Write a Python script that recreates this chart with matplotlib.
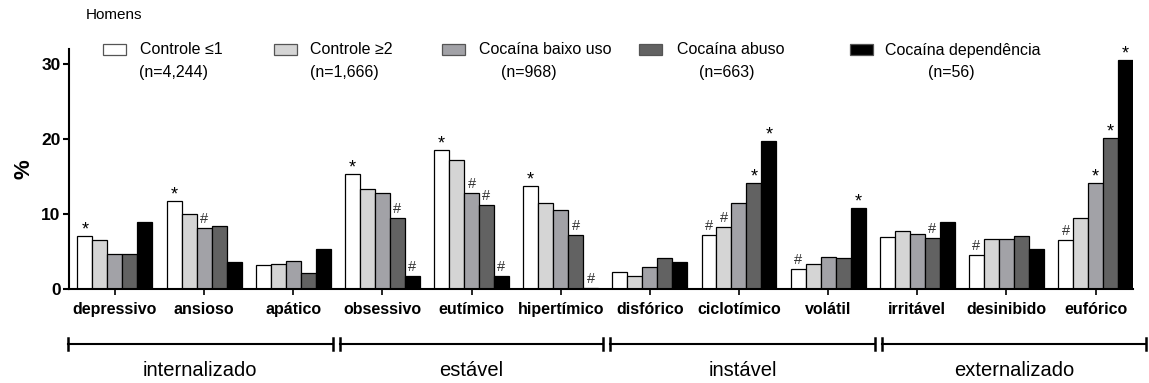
import numpy as np
import matplotlib
matplotlib.use('Agg')
import matplotlib.pyplot as plt
import matplotlib.transforms as mtransforms
from matplotlib.patches import Rectangle

plt.rcParams['font.family'] = ['Liberation Sans', 'DejaVu Sans']

categories = ['depressivo', 'ansioso', 'apático', 'obsessivo', 'eutímico', 'hipertímico',
              'disfórico', 'ciclotímico', 'volátil', 'irritável', 'desinibido', 'eufórico']

groups = ['Controle \u22641', 'Controle \u22652', 'Cocaína baixo uso', 'Cocaína abuso', 'Cocaína dependência']
group_n = ['(n=4,244)', '(n=1,666)', '(n=968)', '(n=663)', '(n=56)']

ctrl_le1 = [7.1, 11.8, 3.2, 15.4, 18.5, 13.8, 2.3, 7.2, 2.7, 6.9, 4.6, 6.6]
ctrl_ge2 = [6.6, 10.0, 3.4, 13.4, 17.2, 11.5, 1.7, 8.3, 3.4, 7.8, 6.7, 9.5]
coc_low = [4.7, 8.2, 3.7, 12.8, 12.8, 10.5, 3.0, 11.5, 4.3, 7.4, 6.7, 14.2]
coc_abuse = [4.7, 8.4, 2.1, 9.5, 11.2, 7.2, 4.2, 14.2, 4.1, 6.8, 7.1, 20.2]
coc_dep = [8.9, 3.6, 5.4, 1.8, 1.8, 0.2, 3.6, 19.7, 10.8, 8.9, 5.4, 30.5]

# significance marks per category, one char per group ('.' = none)
sig = ['*....', '*.#..', '.....', '*..##', '*.###', '*..##',
       '.....', '##.**', '#...*', '...#.', '#....', '#.***']

domains = ['internalizado', 'estável', 'instável', 'externalizado']
domain_span = [(-0.527, 2.443), (2.521, 5.479), (5.557, 8.527), (8.605, 11.563)]

colors = ['#ffffff', '#d5d5d5', '#a2a2a7', '#626262', '#000000']

series = [ctrl_le1, ctrl_ge2, coc_low, coc_abuse, coc_dep]

fig = plt.figure(figsize=(11.49, 3.83), dpi=100)
ax = fig.add_axes([0.06005, 0.24543, 0.92602, 0.62663])

x = np.arange(len(categories))
w = 0.168
for j, vals in enumerate(series):
    pos = x + (j - 2) * w
    ax.bar(pos, vals, width=w, color=colors[j], edgecolor='black', linewidth=0.9, zorder=2)
    for i, v in enumerate(vals):
        m = sig[i][j]
        if m == '*':
            ax.annotate('*', (pos[i], v), xytext=(0, 1.0), textcoords='offset points',
                        ha='center', va='baseline', fontsize=13)
        elif m == '#':
            ax.annotate('#', (pos[i], v), xytext=(0, 3.4), textcoords='offset points',
                        ha='center', va='baseline', fontsize=10.5, color='#333333')

ax.set_xlim(-0.515, 11.42)
ax.set_ylim(0, 32)
ax.set_yticks([0, 10, 20, 30])
ax.set_xticks(x)
ax.set_xticklabels(categories, fontweight='bold', fontsize=11.5)
for lab in ax.get_yticklabels():
    lab.set_fontweight('bold')
    lab.set_fontsize(12.5)

ax.spines['top'].set_visible(False)
ax.spines['right'].set_visible(False)
ax.spines['left'].set_linewidth(1.5)
ax.spines['bottom'].set_linewidth(1.5)
ax.tick_params(axis='y', length=4.5, width=1.5, pad=1.5)
ax.tick_params(axis='x', length=4, width=1.2, pad=5)

ax.set_ylabel('%', fontsize=16, fontweight='bold', labelpad=5)

# domain brackets under the axis
trans = mtransforms.blended_transform_factory(ax.transData, ax.transAxes)
yb = -0.229
for name, (x0, x1) in zip(domains, domain_span):
    ax.plot([x0, x1], [yb, yb], color='black', lw=1.5, transform=trans, clip_on=False)
    for xe in (x0, x1):
        ax.plot([xe, xe], [yb - 0.024, yb + 0.024], color='black', lw=1.8,
                transform=trans, clip_on=False)
    ax.text((x0 + x1) / 2, -0.338, name, transform=trans, ha='center', va='center',
            fontsize=14.5)

# legend drawn by hand
W, H = 1149.0, 383.0
patch_x = [103, 274, 442, 639, 850]
label_x = [140, 310, 479, 677, 885]
n_x = [173, 344, 529, 727, 951]
for j in range(5):
    fig.add_artist(Rectangle((patch_x[j] / W, 1 - 55 / H), 23 / W, 11 / H,
                             transform=fig.transFigure, facecolor=colors[j],
                             edgecolor='#555555', linewidth=0.9))
    fig.text(label_x[j] / W, 1 - 50 / H, groups[j], ha='left', va='center', fontsize=11.5)
    fig.text(n_x[j] / W, 1 - 72 / H, group_n[j], ha='center', va='center', fontsize=11.5)

fig.text(86 / W, 1 - 15 / H, 'Homens', ha='left', va='center', fontsize=11)

plt.savefig('out.png', dpi=100)
